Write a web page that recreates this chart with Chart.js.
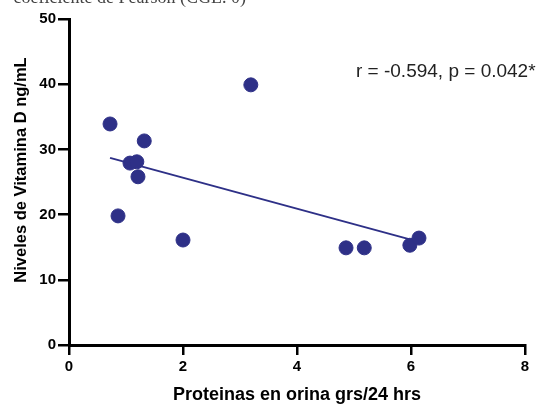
<!DOCTYPE html>
<html>
<head>
<meta charset="utf-8">
<script src="https://cdn.jsdelivr.net/npm/chart.js@4/dist/chart.umd.min.js"></script>
<style>
  html, body { margin: 0; padding: 0; background: #fff; }
  #wrap { width: 536px; height: 406px; position: relative; }
</style>
</head>
<body>
<div id="wrap"><canvas id="grafico"></canvas></div>
<script>
// Datos
const proteinas = [0.72, 0.86, 1.07, 1.19, 1.21, 1.32, 2.0, 3.19, 4.86, 5.18, 5.98, 6.14];
const vitaminaD = [33.9, 19.8, 27.9, 28.1, 25.8, 31.3, 16.1, 39.9, 14.9, 14.9, 15.3, 16.4];
const rectaX = [0.72, 5.98];
const rectaY = [28.7, 16.2];
const ticksX = [0, 2, 4, 6, 8];
const ticksY = [0, 10, 20, 30, 40, 50];
const textoR = 'r = -0.594, p = 0.042*';
const tituloCortado = 'coeficiente de Pearson (CGL. 0)';
const tituloY = 'Niveles de Vitamina D ng/mL';

const azul = '#2e3087';
const sans = '"Liberation Sans", Arial, sans-serif';

const puntos = proteinas.map((x, i) => ({ x: x, y: vitaminaD[i] }));
const recta = rectaX.map((x, i) => ({ x: x, y: rectaY[i] }));

// Textos extra (anotación, título del eje Y y título cortado)
const textosExtra = {
  id: 'textosExtra',
  afterDraw(chart) {
    const ctx = chart.ctx;
    ctx.save();
    ctx.fillStyle = '#222';
    ctx.font = '19px ' + sans;
    ctx.textAlign = 'left';
    ctx.textBaseline = 'middle';
    ctx.fillText(textoR, 356, 72);

    ctx.fillStyle = '#444';
    ctx.font = '18px "Liberation Serif", serif';
    ctx.textAlign = 'right';
    ctx.textBaseline = 'alphabetic';
    ctx.fillText(tituloCortado, 246, 2.5);

    ctx.translate(21, 170);
    ctx.rotate(-Math.PI / 2);
    ctx.fillStyle = '#000';
    ctx.font = 'bold 16.5px ' + sans;
    ctx.textAlign = 'center';
    ctx.textBaseline = 'middle';
    ctx.fillText(tituloY, 0, 0);
    ctx.restore();
  }
};

const fuenteEje = { family: sans, size: 15, weight: 'bold' };

new Chart(document.getElementById('grafico'), {
  type: 'scatter',
  data: {
    datasets: [
      {
        data: puntos,
        backgroundColor: azul,
        borderColor: azul,
        pointRadius: 7,
        pointHoverRadius: 7,
        order: 1
      },
      {
        data: recta,
        type: 'line',
        showLine: true,
        borderColor: azul,
        borderWidth: 2,
        pointRadius: 0,
        fill: false,
        order: 2
      }
    ]
  },
  options: {
    responsive: true,
    maintainAspectRatio: false,
    animation: false,
    layout: { padding: { top: 19, right: 11, left: 0, bottom: 0 } },
    plugins: { legend: { display: false }, tooltip: { enabled: false } },
    scales: {
      x: {
        type: 'linear',
        min: 0,
        max: 8,
        afterBuildTicks: s => { s.ticks = ticksX.map(v => ({ value: v })); },
        afterFit: s => { s.height = 61; },
        grid: { drawOnChartArea: false, drawTicks: true, tickLength: 10, color: '#000', lineWidth: 2.5 },
        border: { color: '#000', width: 3 },
        ticks: { color: '#000', font: fuenteEje, padding: 3, maxRotation: 0 },
        title: {
          display: true,
          text: 'Proteinas en orina grs/24 hrs',
          color: '#000',
          font: { family: sans, size: 18, weight: 'bold' },
          padding: { top: 4, bottom: 0 }
        }
      },
      y: {
        type: 'linear',
        min: 0,
        max: 50,
        afterBuildTicks: s => { s.ticks = ticksY.map(v => ({ value: v })); },
        afterFit: s => { s.width = 69; },
        grid: { drawOnChartArea: false, drawTicks: true, tickLength: 11, color: '#000', lineWidth: 2.5 },
        border: { color: '#000', width: 3 },
        ticks: { color: '#000', font: fuenteEje, padding: 2 }
      }
    }
  },
  plugins: [textosExtra]
});
</script>
</body>
</html>
